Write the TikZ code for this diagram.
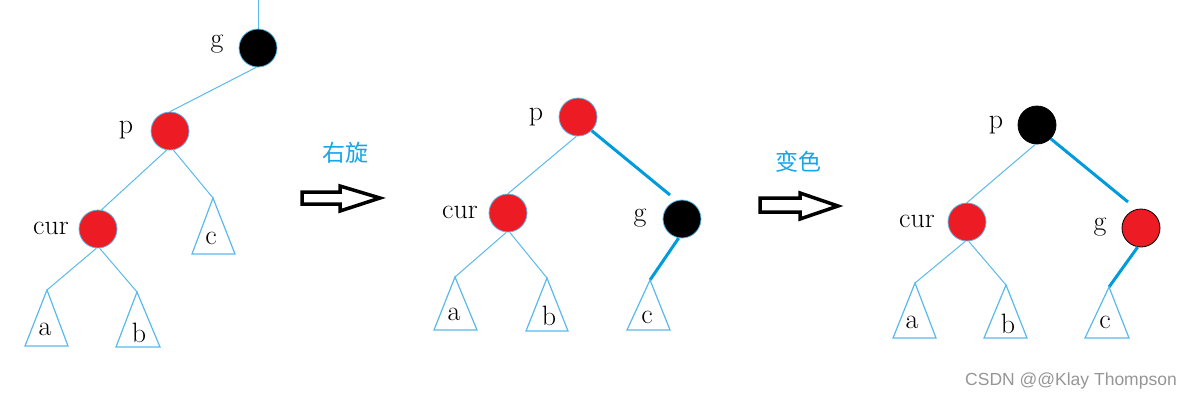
\documentclass[tikz,border=0pt]{standalone}
\usepackage{fontspec}
\newfontfamily\cjkfont{Noto Sans CJK SC}
\newfontfamily\wmfont{Liberation Sans}
\definecolor{lblue}{RGB}{90,185,235}
\definecolor{dblue}{RGB}{0,155,220}
\definecolor{tblue}{RGB}{20,165,235}
\definecolor{nred}{RGB}{237,28,36}
\definecolor{wmgray}{RGB}{150,150,150}
\begin{document}
\begin{tikzpicture}[x=1pt,y=-1pt,
  rbnode/.style={circle,minimum size=38pt,inner sep=0pt,draw=lblue,line width=0.8pt},
  rednode/.style={rbnode,fill=nred},
  blacknode/.style={rbnode,fill=black},
  lbl/.style={anchor=base,inner sep=0pt,font=\fontsize{28}{28}\selectfont},
  thin edge/.style={draw=lblue,line width=1pt},
  thick edge/.style={draw=dblue,line width=3pt},
  subtree/.style={draw=lblue,line width=1.2pt,line join=miter},
  bigarrow/.style={draw=black,line width=3.5pt,fill=white,line join=miter},
  opname/.style={inner sep=0pt,text=tblue,font=\cjkfont\fontsize{23}{23}\selectfont}
]
\useasboundingbox (0,0) rectangle (1196,405);

% ---------- tree 1 ----------
\node[blacknode] (g1) at (258,48) {};
\node[rednode] (p1) at (170,131) {};
\node[rednode] (cur1) at (98,229) {};
\coordinate (top1) at (258,0);
\coordinate (ta1) at (47,290);
\coordinate (tb1) at (137,292);
\coordinate (tc1) at (213,198);
\node[lbl] (lg1) at (217,47) {g};
\node[lbl] (lp1) at (126,133) {p};
\node[lbl] (lcur1) at (51,234) {cur};
\draw[thin edge] (top1) -- (g1.north);
\draw[thin edge] (g1.-95) -- (p1.90);
\draw[thin edge] (p1.-100) -- (cur1.80);
\draw[thin edge] (p1.-80) -- (tc1);
\draw[thin edge] (cur1.-95) -- (ta1);
\draw[thin edge] (cur1.-85) -- (tb1);
\draw[subtree] (ta1) -- (25,346) -- (68,346) -- cycle;
\draw[subtree] (tb1) -- (116,347) -- (160,347) -- cycle;
\draw[subtree] (tc1) -- (192,254) -- (235,254) -- cycle;
\node[lbl] (la1) at (45,335) {a};
\node[lbl] (lb1) at (139,342) {b};
\node[lbl] (lc1) at (211,244) {c};

% ---------- arrow 1 ----------
\draw[bigarrow] (302,192) -- (340,192) -- (340,186) -- (380,198) -- (340,211) -- (340,204) -- (302,204) -- cycle;
\node[opname] (op1) at (345,153) {右旋};

% ---------- tree 2 ----------
\node[rednode] (p2) at (578,117) {};
\node[rednode] (cur2) at (508,213) {};
\node[blacknode] (g2) at (682,219) {};
\coordinate (pg2) at (670,195);
\coordinate (ta2) at (455,277);
\coordinate (tb2) at (547,278);
\coordinate (tc2) at (650,280);
\node[lbl] (lp2) at (536,120) {p};
\node[lbl] (lcur2) at (460,218) {cur};
\node[lbl] (lg2) at (640,221) {g};
\draw[thin edge] (p2.-95) -- (cur2.90);
\draw[thick edge] (p2.-45) -- (pg2);
\draw[thick edge] (g2.-100) -- (tc2);
\draw[thin edge] (cur2.-95) -- (ta2);
\draw[thin edge] (cur2.-85) -- (tb2);
\draw[subtree] (ta2) -- (434,330) -- (477,330) -- cycle;
\draw[subtree] (tb2) -- (526,331) -- (568,331) -- cycle;
\draw[subtree] (tc2) -- (627,330) -- (670,330) -- cycle;
\node[lbl] (la2) at (454,320) {a};
\node[lbl] (lb2) at (549,325) {b};
\node[lbl] (lc2) at (647,323) {c};

% ---------- arrow 2 ----------
\draw[bigarrow] (760,198) -- (800,198) -- (800,193) -- (838,206) -- (800,219) -- (800,212) -- (760,212) -- cycle;
\node[opname] (op2) at (798,162) {变色};

% ---------- tree 3 ----------
\node[blacknode,draw=black] (p3) at (1037,125) {};
\node[rednode] (cur3) at (967,222) {};
\node[rednode,draw=black] (g3) at (1141,228) {};
\coordinate (pg3) at (1128,202);
\coordinate (ta3) at (915,283);
\coordinate (tb3) at (1006,285);
\coordinate (tc3) at (1109,287);
\node[lbl] (lp3) at (996,128) {p};
\node[lbl] (lcur3) at (917,227) {cur};
\node[lbl] (lg3) at (1100,230) {g};
\draw[thin edge] (p3.-95) -- (cur3.90);
\draw[thick edge] (p3.-45) -- (pg3);
\draw[thick edge] (g3.-100) -- (tc3);
\draw[thin edge] (cur3.-95) -- (ta3);
\draw[thin edge] (cur3.-85) -- (tb3);
\draw[subtree] (ta3) -- (893,338) -- (936,338) -- cycle;
\draw[subtree] (tb3) -- (984,338) -- (1027,338) -- cycle;
\draw[subtree] (tc3) -- (1085,338) -- (1129,338) -- cycle;
\node[lbl] (la3) at (912,328) {a};
\node[lbl] (lb3) at (1008,333) {b};
\node[lbl] (lc3) at (1105,328) {c};

% ---------- watermark ----------
\node[inner sep=0pt,text=wmgray,font=\wmfont\fontsize{17.5}{17.5}\selectfont] (wm) at (1071,381) {CSDN @@Klay Thompson};
\end{tikzpicture}
\end{document}
